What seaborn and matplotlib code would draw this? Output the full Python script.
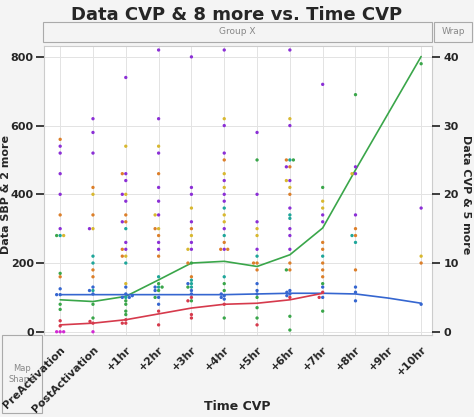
import matplotlib
matplotlib.use("Agg")
import matplotlib.pyplot as plt
import seaborn as sns
import pandas as pd
from matplotlib.patches import Rectangle

categories = ["PreActivation", "PostActivation", "+1hr", "+2hr", "+3hr", "+4hr",
              "+5hr", "+6hr", "+7hr", "+8hr", "+9hr", "+10hr"]

purple = [[540,520,460,400,300],[620,580,520,300],[740,460,440,400,380,320,260,240],
          [820,620,520,420,380,340,260,240],[800,420,400,320,260,240],[820,600,520,440,400,380,300,240],
          [580,400,320,240],[820,600,480,440,360,300,280,240],[720,340,320],[480,460,340],[],[360]]
yellow = [[280],[400,300],[540,400,220,140],[540,340,300],[360,280,240],[620,460,420,340,320],
          [300,280],[620,440,420],[380,360],[460],[],[220]]
orange = [[560,340,160],[420,340,180,160],[460,340,320,240,220],[460,300,280,220],[300,200,160],
          [500,260,240,240],[200,200,180],[480,500,180,200,400],[200,180,160,240,260],[300,280,180],[],[200]]
teal = [[280],[220,200,120],[300,200,100],[160,130],[150,140,130],[360,280,160],[220],
        [500,340,330],[220],[280,260],[],[]]
green = [[280,170,80,65],[80,40],[90,80,60,50],[140,130,120,100],[200,130,90],[140,120,40],
         [500,100,70,40],[500,180,45,5],[420,140,60],[690],[],[780]]
blue = [[125,108,108],[130,120,110],[130,110,105,100,100],[130,120,100,80],[140,120,110],
        [110,105,100,95],[140,120,110],[120,115,110,105],[130,100],[130,115,90],[],[80]]
red = [[32,17],[25,30],[35,25,25],[60,20],[100,90,40,50],[80],[20],[100],[115,100],[],[],[]]
magenta = [[0,0,0],[0],[],[],[],[],[],[],[],[],[],[]]

green_line = [93,88,103,151,200,205,190,224,302,471,636,801]
blue_line = [108,108,108,108,108,108,110,112,112,110,98,83]
red_line = [20,25,35,52,69,80,83,93,112]

series = {"purple": purple, "yellow": yellow, "orange": orange, "teal": teal,
          "green": green, "blue": blue, "red": red, "magenta": magenta}
palette = {"purple": "#8b2fd6", "yellow": "#d8b830", "orange": "#dc7f2a", "teal": "#1fa69a",
           "green": "#3aa64a", "blue": "#3566d0", "red": "#d63a4c", "magenta": "#d22ad2"}

rows = []
for name, cols in series.items():
    for ci, vals in enumerate(cols):
        for v in vals:
            rows.append({"cat": categories[ci], "val": v, "series": name})
df = pd.DataFrame(rows)

sns.set_theme(style="whitegrid")
plt.rcParams['font.family'] = ['DejaVu Sans']
fig = plt.figure(figsize=(4.74, 4.17), dpi=100)
fig.patch.set_facecolor("#f4f4f4")
ax = fig.add_axes([0.093, 0.197, 0.819, 0.693])
ax.set_facecolor("white")

sns.swarmplot(data=df, x="cat", y="val", hue="series", palette=palette, order=categories,
              size=2.4, ax=ax, legend=False, linewidth=0)
ld = pd.DataFrame({"x": list(range(12)), "g": green_line, "b": blue_line})
sns.lineplot(x=ld["x"], y=ld["g"], color="#3aa64a", lw=1.2, ax=ax)
sns.lineplot(x=ld["x"], y=ld["b"], color="#3566d0", lw=1.2, ax=ax)
sns.lineplot(x=list(range(len(red_line))), y=red_line, color="#d63a4c", lw=1.2, ax=ax)

ax.set_xlim(-0.49, 11.34)
ax.set_ylim(-9, 832)
ax.set_yticks([0, 200, 400, 600, 800])
ax.set_xticks(range(12))
ax.set_xticklabels(categories, rotation=45, ha="right", rotation_mode="anchor",
                   fontsize=7.8, fontweight="bold")
ax.tick_params(axis="y", labelsize=8, pad=1.5)
ax.tick_params(axis="x", pad=1)
for t in ax.get_yticklabels():
    t.set_fontweight("bold")
ax.grid(True, color="#e3e3e3", lw=0.7)
for s in ax.spines.values():
    s.set_color("#cccccc"); s.set_linewidth(0.8)
ax.set_xlabel("")
ax.set_ylabel("")
fig.text(6/474, 1-195/417, "Data SBP & 2 more", rotation=90, ha="center", va="center",
         fontsize=8, fontweight="bold")

ax2 = ax.twinx()
ax2.set_ylim(-9/20, 832/20)
ax2.set_yticks([0, 10, 20, 30, 40])
ax2.grid(False)
ax2.tick_params(axis="y", labelsize=8, pad=2)
for t in ax2.get_yticklabels():
    t.set_fontweight("bold")
ax2.set_ylabel("")
fig.text(466/474, 1-195/417, "Data CVP & 5 more", rotation=270, ha="center", va="center",
         fontsize=8, fontweight="bold")
for s in ax2.spines.values():
    s.set_visible(False)

fig.text(0.5, 0.965, "Data CVP & 8 more vs. Time CVP", ha="center", va="center",
         fontsize=13, fontweight="bold")
fig.text(237/474, 1-407/417, "Time CVP", ha="center", va="center", fontsize=9, fontweight="bold")
fig.patches.append(Rectangle((43/474, 1-42/417), 389/474, 20/417, transform=fig.transFigure,
                             facecolor="#f4f4f4", edgecolor="#aaaaaa", lw=0.8))
fig.text(0.5 * (43+432)/474, 1-32/417, "Group X", ha="center", va="center", fontsize=6.5, color="#888888")
fig.patches.append(Rectangle((434/474, 1-42/417), 38/474, 20/417, transform=fig.transFigure,
                             facecolor="#f4f4f4", edgecolor="#aaaaaa", lw=0.8))
fig.text(453/474, 1-32/417, "Wrap", ha="center", va="center", fontsize=6.5, color="#888888")
fig.patches.append(Rectangle((2/474, 1-413/417), 40/474, 78/417, transform=fig.transFigure,
                             facecolor="#f4f4f4", edgecolor="#aaaaaa", lw=0.8, zorder=-1))
fig.text(22/474, 1-374/417, "Map\nShape", ha="center", va="center", fontsize=6, color="#888888", zorder=-1)

fig.savefig("out.png", dpi=100, facecolor=fig.get_facecolor())
